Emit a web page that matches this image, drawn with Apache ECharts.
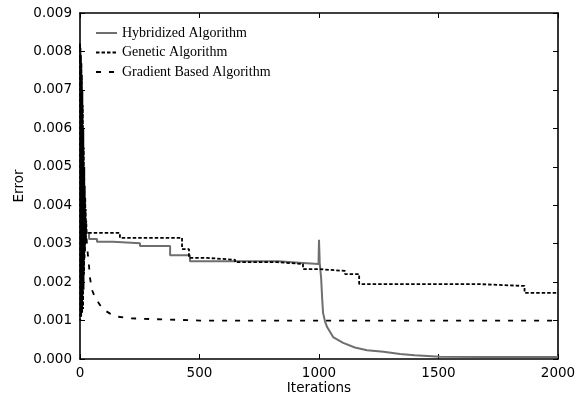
<!DOCTYPE html>
<html>
<head>
<meta charset="utf-8">
<script src="https://cdn.jsdelivr.net/npm/echarts@6/dist/echarts.min.js"></script>
<style>
html,body{margin:0;padding:0;background:#fff;}
#chart{width:582px;height:397px;}
</style>
</head>
<body>
<div id="chart"></div>
<script>
// ---- data ----
var seriesNames = ['Hybridized Algorithm', 'Genetic Algorithm', 'Gradient Based Algorithm'];
var xTicks = [0, 500, 1000, 1500, 2000];
var yTicks = [0, 0.001, 0.002, 0.003, 0.004, 0.005, 0.006, 0.007, 0.008, 0.009];

// Hybridized: corner points of the steps, then the descent after iteration 1000
var hybridIter = [8, 38, 38, 71, 71, 138, 138, 251, 251, 377, 377, 460, 460, 829, 829, 933, 933, 998,
  1000, 1003, 1009, 1013, 1017, 1025, 1034, 1059, 1101, 1150, 1201, 1270, 1339, 1400, 1507, 1700, 2000];
var hybridErr = [0.00328, 0.00328, 0.00312, 0.00312, 0.00305, 0.00305, 0.00301, 0.00301,
  0.00294, 0.00294, 0.00270, 0.00270, 0.00254, 0.00254, 0.00250, 0.00250, 0.00247, 0.00247,
  0.00310, 0.00250, 0.00210, 0.00160, 0.00120, 0.00098, 0.00083, 0.00057, 0.00042, 0.00030, 0.00023, 0.00019,
  0.00013, 0.00010, 0.00006, 0.00005, 0.00005];

// Genetic: value holds from this iteration until the next one
var geneticIter = [0, 1, 2, 3, 4, 5, 6, 7, 8, 9, 10, 11, 12, 13, 14, 15, 16, 17, 18, 19, 20, 21, 22, 23, 24, 25, 26, 28,
  167, 427, 456, 530, 649, 825, 933, 996, 1109, 1168, 1661, 1860, 2000];
var geneticErr = [0.0082, 0.0010, 0.0081, 0.0012, 0.0079, 0.0011, 0.0077, 0.0014, 0.0074, 0.0012, 0.0070, 0.0016,
  0.0066, 0.0013, 0.0060, 0.0018, 0.0055, 0.0022, 0.0050, 0.0026, 0.0045, 0.0028, 0.0042, 0.0030, 0.0039, 0.0031,
  0.0036, 0.00328,
  0.00315, 0.00286, 0.00263, 0.00258, 0.00252, 0.00247, 0.00234, 0.00229, 0.00221, 0.00195, 0.00190, 0.00172, 0.00172];

// Gradient based
var gradientIter = [0, 3, 6, 10, 15, 20, 25, 29, 33, 38, 42, 50, 63, 84, 100, 126, 159, 209, 293, 400, 502, 1000, 2000];
var gradientErr = [0.0082, 0.0068, 0.0057, 0.0048, 0.0041, 0.0037, 0.0034, 0.0030, 0.0027, 0.0024, 0.0021, 0.0018,
  0.0016, 0.00140, 0.00128, 0.00118, 0.00110, 0.00106, 0.00104, 0.00102, 0.00100, 0.00100, 0.00100];

function pairs(xs, ys) { return xs.map(function (x, i) { return [x, ys[i]]; }); }

var chart = echarts.init(document.getElementById('chart'), null, {renderer: 'canvas'});
var tickFont = {fontFamily: 'DejaVu Sans', fontSize: 13.5, color: '#000'};
var axisLine = {show: true, onZero: false, lineStyle: {color: '#000', width: 1.6}};
var axisTick = {show: true, inside: true, length: 5, lineStyle: {color: '#000', width: 1}};

var option = {
  animation: false,
  backgroundColor: '#fff',
  grid: {left: 80, right: 24, top: 13, bottom: 38, containLabel: false, outerBoundsMode: 'none'},
  legend: {
    orient: 'vertical', left: 95, top: 26, padding: 0,
    itemWidth: 21, itemHeight: 12, itemGap: 5.5,
    itemStyle: {opacity: 0},
    textStyle: {fontFamily: 'Liberation Serif', fontSize: 14, color: '#000', padding: [0, 0, 0, 0]},
    data: seriesNames
  },
  xAxis: [{
    type: 'value', min: xTicks[0], max: xTicks[xTicks.length - 1], interval: xTicks[1] - xTicks[0],
    position: 'bottom',
    name: 'Iterations', nameLocation: 'middle', nameGap: 22, nameMoveOverlap: false,
    nameTextStyle: {fontFamily: 'DejaVu Sans', fontSize: 13.5, color: '#000'},
    axisLine: axisLine, axisTick: axisTick, splitLine: {show: false},
    axisLabel: Object.assign({margin: 7, formatter: function (v) { return String(v); }}, tickFont)
  }, {
    type: 'value', min: xTicks[0], max: xTicks[xTicks.length - 1], interval: xTicks[1] - xTicks[0],
    position: 'top', axisLine: axisLine, axisTick: axisTick, splitLine: {show: false},
    axisLabel: {show: false}
  }],
  yAxis: [{
    type: 'value', min: yTicks[0], max: yTicks[yTicks.length - 1], interval: yTicks[1] - yTicks[0],
    position: 'left',
    name: 'Error', nameLocation: 'middle', nameGap: 54, nameMoveOverlap: false,
    nameTextStyle: {fontFamily: 'DejaVu Sans', fontSize: 13.5, color: '#000'},
    axisLine: axisLine, axisTick: axisTick, splitLine: {show: false},
    axisLabel: Object.assign({margin: 8, formatter: function (v) { return v.toFixed(3); }}, tickFont)
  }, {
    type: 'value', min: yTicks[0], max: yTicks[yTicks.length - 1], interval: yTicks[1] - yTicks[0],
    position: 'right', axisLine: axisLine, axisTick: axisTick, splitLine: {show: false},
    axisLabel: {show: false}
  }],
  series: [{
    name: seriesNames[0], type: 'line', data: pairs(hybridIter, hybridErr),
    symbol: 'none', color: '#6f6f6f',
    lineStyle: {color: '#6f6f6f', width: 2, type: 'solid'}
  }, {
    name: seriesNames[1], type: 'line', data: pairs(geneticIter, geneticErr),
    step: 'end', symbol: 'none', color: '#000',
    lineStyle: {color: '#000', width: 1.8, type: [3.5, 2]}
  }, {
    name: seriesNames[2], type: 'line', data: pairs(gradientIter, gradientErr),
    symbol: 'none', color: '#000',
    lineStyle: {color: '#000', width: 1.8, type: [5, 8]}
  }]
};
chart.setOption(option);
</script>
</body>
</html>
